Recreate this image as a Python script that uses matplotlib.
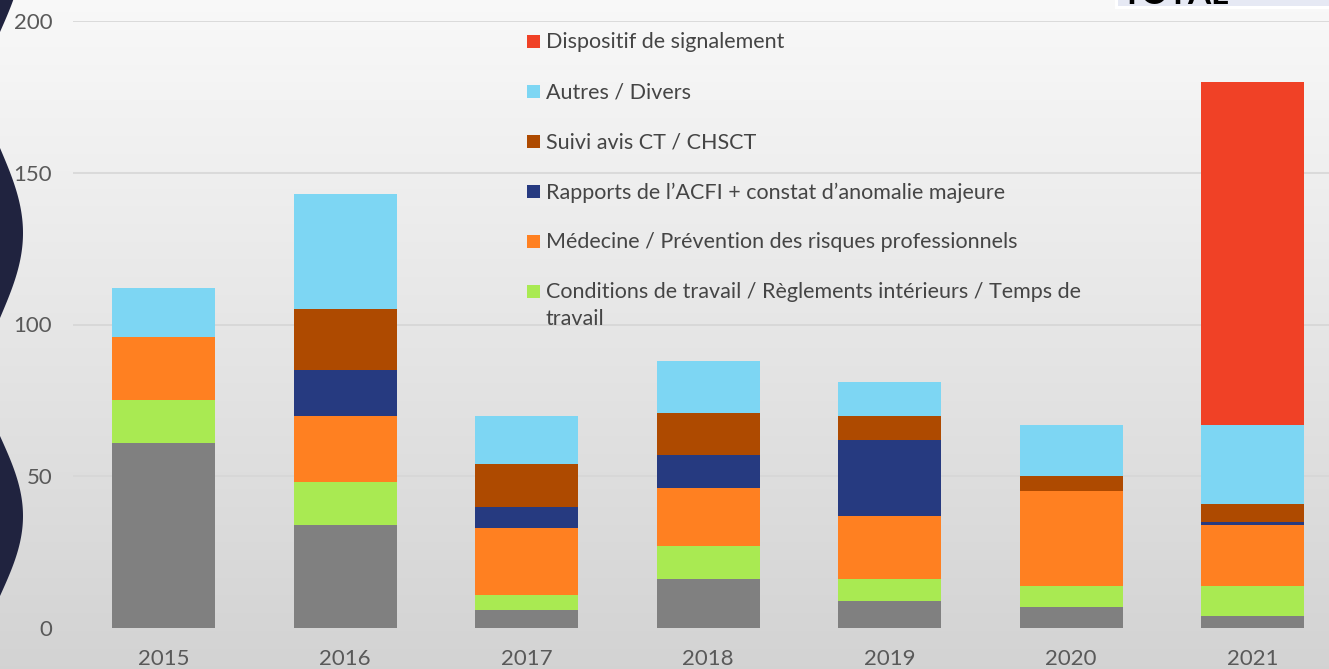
import numpy as np
import matplotlib
matplotlib.use("Agg")
import matplotlib.pyplot as plt
from matplotlib.patches import Rectangle

plt.rcParams['font.family'] = ['Lato', 'DejaVu Sans']

# ---------------- data ----------------
years = ["2015", "2016", "2017", "2018", "2019", "2020", "2021"]
autres_non_classe = [61, 34, 6, 16, 9, 7, 4]          # grey series (not in visible legend)
conditions_travail = [14, 14, 5, 11, 7, 7, 10]
medecine_prevention = [21, 22, 22, 19, 21, 31, 20]
rapports_acfi = [0, 15, 7, 11, 25, 0, 1]
suivi_avis_ct = [0, 20, 14, 14, 8, 5, 6]
autres_divers = [16, 38, 16, 17, 11, 17, 26]
dispositif_signalement = [0, 0, 0, 0, 0, 0, 113]

series_labels = [
    None,
    "Conditions de travail / Règlements intérieurs / Temps de\ntravail",
    "Médecine / Prévention des risques professionnels",
    "Rapports de l\u2019ACFI + constat d\u2019anomalie majeure",
    "Suivi avis CT / CHSCT",
    "Autres / Divers",
    "Dispositif de signalement",
]
series_values = [autres_non_classe, conditions_travail, medecine_prevention,
                 rapports_acfi, suivi_avis_ct, autres_divers, dispositif_signalement]
series_colors = ["#808080", "#A9EA52", "#FF8021", "#263A80", "#AE4A00", "#7DD6F3", "#F04126"]

yticks = [0, 50, 100, 150, 200]

W, H = 1329, 669
fig = plt.figure(figsize=(W / 100, H / 100), dpi=100)

# ---------------- background ----------------
bg = fig.add_axes([0, 0, 1, 1], zorder=-10)
bg.set_xlim(0, W)
bg.set_ylim(H, 0)
bg.axis("off")
top = np.array([0.975, 0.975, 0.975])
bot = np.array([0.827, 0.827, 0.827])
t = np.linspace(0, 1, 400)[:, None, None]
grad = top * (1 - t) + bot * t
grad = np.repeat(grad, 2, axis=1)
bg.imshow(grad, extent=[0, W, H, 0], aspect="auto", zorder=0)

# dark wavy decoration at left edge
navy = "#20233F"
for c, hw in [(-50, 82), (233, 85), (516, 80)]:
    yy = np.linspace(c - hw, c + hw, 200)
    xx = 23 * np.sin(np.pi * (yy - (c - hw)) / (2 * hw))
    bg.fill(np.concatenate([[0], xx, [0]]), np.concatenate([[yy[0]], yy, [yy[-1]]]),
            color=navy, zorder=1, lw=0)

# "TOTAL" box cut off at the top right
bg.add_patch(Rectangle((1115, -5), 230, 14, facecolor="white", edgecolor="none", zorder=2))
bg.add_patch(Rectangle((1118, -5), 230, 11, facecolor="#E6E9F4", edgecolor="none", zorder=3))
bg.text(1121, 4, "TOTAL", fontsize=24, fontweight="bold", color="black",
        ha="left", va="baseline", zorder=4, clip_on=True)

# ---------------- main axes ----------------
left_px, right_px, top_px, bottom_px = 73, 73 + 7 * 181.5, 21, 628
ax = fig.add_axes([left_px / W, (H - bottom_px) / H, (right_px - left_px) / W,
                   (bottom_px - top_px) / H])
ax.set_facecolor("none")
x = np.arange(len(years))
bottom = np.zeros(len(years))
for vals, col in zip(series_values, series_colors):
    vals = np.array(vals, dtype=float)
    ax.bar(x, vals, 0.57, bottom=bottom, color=col, linewidth=0, zorder=3)
    bottom += vals

ax.set_xlim(-0.5, len(years) - 0.5)
ax.set_ylim(0, 200)
ax.set_yticks(yticks)
ax.set_xticks(x)
ax.set_xticklabels(years)
ax.grid(axis="y", color="#D6D6D6", linewidth=1.2, zorder=0)
ax.set_axisbelow(True)
for s in ax.spines.values():
    s.set_visible(False)
ax.tick_params(axis="both", length=0, labelsize=16, labelcolor="#595959")
ax.tick_params(axis="x", pad=15)
ax.tick_params(axis="y", pad=15)

# ---------------- legend (top series first, in figure pixels) ----------------
leg_ax = fig.add_axes([0, 0, 1, 1], zorder=5)
leg_ax.set_xlim(0, W)
leg_ax.set_ylim(H, 0)
leg_ax.axis("off")
entries = [(lab, col) for lab, col in zip(series_labels, series_colors) if lab is not None][::-1]
for i, (lab, col) in enumerate(entries):
    ry = 41.5 + 50 * i
    leg_ax.add_patch(Rectangle((527, ry - 6.5), 13, 13, facecolor=col, edgecolor="none"))
    leg_ax.text(546, ry - 9, lab, fontsize=15.5, color="#454545", ha="left",
                va="top", linespacing=1.4)

fig.savefig("out.png", dpi=100)
